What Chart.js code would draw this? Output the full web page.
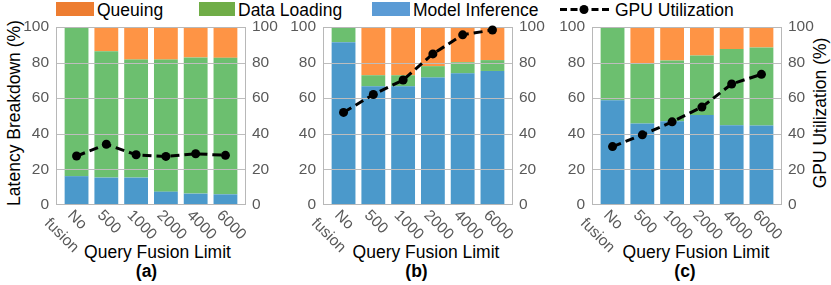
<!DOCTYPE html>
<html>
<head>
<meta charset="utf-8">
<script src="https://cdn.jsdelivr.net/npm/chart.js@4.4.1/dist/chart.umd.min.js"></script>
<style>
  body { margin: 0; background: #fff; }
  #wrap { position: relative; width: 831px; height: 285px; font-family: "Liberation Sans", Arial, sans-serif; }
  canvas { position: absolute; top: 0; }
  .txt { position: absolute; font-size: 17.5px; line-height: 20px; color: #000; white-space: nowrap; }
  .box { position: absolute; top: 2px; height: 14px; }
  .ctr { transform: translateX(-50%); }
  .vt { transform: translate(-50%, -50%) rotate(-90deg); }
</style>
</head>
<body>
<div id="wrap">
  <div class="box" style="left:56px;width:38px;background:#ED7D31"></div>
  <div class="txt" style="left:97px;top:0">Queuing</div>
  <div class="box" style="left:199px;width:36px;background:#70AD47"></div>
  <div class="txt" style="left:238px;top:0">Data Loading</div>
  <div class="box" style="left:372px;width:38px;background:#5B9BD5"></div>
  <div class="txt" style="left:413px;top:0">Model Inference</div>
  <svg style="position:absolute;left:560px;top:0" width="55" height="20">
    <line x1="0" y1="9.5" x2="52" y2="9.5" stroke="#000" stroke-width="3" stroke-dasharray="7 3.5"/>
    <circle cx="24" cy="9.5" r="4.5" fill="#000"/>
  </svg>
  <div class="txt" style="left:615px;top:0">GPU Utilization</div>

  <div class="txt vt" style="left:13.5px;top:113px">Latency Breakdown (%)</div>
  <div class="txt vt" style="left:820px;top:113px">GPU Utilization (%)</div>

  <div class="txt ctr" style="left:157.5px;top:242px">Query Fusion Limit</div>
  <div class="txt ctr" style="left:426px;top:242px">Query Fusion Limit</div>
  <div class="txt ctr" style="left:696px;top:242px">Query Fusion Limit</div>
  <div class="txt ctr" style="left:146.5px;top:261px;font-weight:bold">(a)</div>
  <div class="txt ctr" style="left:416.5px;top:261px;font-weight:bold">(b)</div>
  <div class="txt ctr" style="left:685px;top:261px;font-weight:bold">(c)</div>

  <canvas id="chartA" width="292" height="285" style="left:0px"></canvas>
  <canvas id="chartB" width="292" height="285" style="left:267px"></canvas>
  <canvas id="chartC" width="292" height="285" style="left:536px"></canvas>
</div>
<script>
const categories = [['No', 'fusion'], '500', '1000', '2000', '4000', '6000'];
const yTicks = [0, 20, 40, 60, 80, 100];

// (a)
const inferenceA = [16.2, 15.4, 15.4, 7.5, 6.4, 6.0];
const loadingA   = [83.8, 71.0, 66.3, 74.2, 76.5, 76.7];
const queuingA   = [0, 13.6, 18.3, 18.3, 17.1, 17.3];
const gpuA       = [27.5, 34.1, 28.2, 27.3, 28.8, 27.9];

// (b)
const inferenceB = [91.5, 66.7, 66.7, 71.6, 74.0, 75.3];
const loadingB   = [8.5, 6.2, 6.2, 6.4, 6.2, 6.1];
const queuingB   = [0, 27.1, 27.1, 22.0, 19.8, 18.6];
const gpuB       = [52.0, 62.1, 70.2, 84.9, 95.6, 98.3];

// (c)
const inferenceC = [58.8, 45.8, 47.1, 50.5, 44.8, 44.6];
const loadingC   = [41.2, 33.7, 34.1, 33.5, 42.8, 43.9];
const queuingC   = [0, 20.5, 18.8, 16.0, 12.4, 11.5];
const gpuC       = [32.8, 39.4, 46.7, 55.0, 68.0, 73.4];

const FONT = '"Liberation Sans", Arial, sans-serif';
const TICK_COLOR = '#595959';

const pts = vals => vals.map((v, i) => ({ x: i, y: v }));

// grid + frame go above the bars but under the GPU line
const framePlugin = {
  id: 'frame',
  beforeDatasetDraw(chart, args) {
    if (args.meta.type !== 'line') return;
    const { ctx, chartArea: a } = chart;
    const ys = chart.scales.y;
    ctx.save();
    ctx.setLineDash([]);
    ctx.lineWidth = 1;
    ctx.strokeStyle = '#BDBDBD';
    yTicks.slice(1, -1).forEach(v => {
      const y = Math.round(ys.getPixelForValue(v)) + 0.5;
      ctx.beginPath();
      ctx.moveTo(a.left, y);
      ctx.lineTo(a.right, y);
      ctx.stroke();
    });
    ctx.strokeStyle = '#B8B8B8';
    ctx.strokeRect(a.left + 0.5, a.top + 0.5, a.right - a.left - 1, a.bottom - a.top - 1);
    ctx.restore();
  },
  afterDraw(chart) {
    const { ctx } = chart;
    const xs = chart.scales.x;
    ctx.save();
    ctx.font = '15.5px ' + FONT;
    ctx.fillStyle = TICK_COLOR;
    ctx.textAlign = 'left';
    ctx.textBaseline = 'middle';
    categories.forEach((lab, i) => {
      const lines = Array.isArray(lab) ? lab : [lab];
      const w0 = ctx.measureText(lines[0]).width;
      ctx.save();
      ctx.translate(xs.getPixelForValue(i) - 6.5, 213);
      ctx.rotate(Math.PI / 4);
      lines.forEach((t, j) => {
        ctx.fillText(t, (w0 - ctx.measureText(t).width) / 2, j * 22);
      });
      ctx.restore();
    });
    ctx.restore();
  }
};

function makeChart(id, inference, loading, queuing, gpu) {
  const tickOpts = pad => ({
    stepSize: 20,
    color: TICK_COLOR,
    padding: pad,
    font: { family: FONT, size: 15.5 }
  });
  return new Chart(document.getElementById(id), {
    type: 'bar',
    data: {
      datasets: [
        { label: 'Model Inference', data: pts(inference), backgroundColor: '#4B99CB', order: 1 },
        { label: 'Data Loading', data: pts(loading), backgroundColor: '#6CBF6F', order: 1 },
        { label: 'Queuing', data: pts(queuing), backgroundColor: '#FE9445', order: 1 },
        {
          type: 'line', label: 'GPU Utilization', data: pts(gpu), yAxisID: 'y2', order: 0,
          borderColor: '#000', borderWidth: 3, borderDash: [9, 5],
          pointRadius: 4.5, pointBackgroundColor: '#000', pointBorderWidth: 0,
          clip: false
        }
      ]
    },
    options: {
      responsive: false,
      animation: false,
      devicePixelRatio: 1,
      barPercentage: 0.8,
      categoryPercentage: 1,
      layout: { padding: { top: 27, bottom: 80, left: 0, right: 0 } },
      plugins: { legend: { display: false }, tooltip: { enabled: false } },
      scales: {
        x: { type: 'linear', min: -0.69, max: 5.69, offset: false, display: false, stacked: true },
        y: {
          stacked: true, min: 0, max: 100, position: 'left',
          ticks: tickOpts(7),
          grid: { display: false, drawTicks: false },
          border: { display: false },
          afterFit(s) { s.width = 56; }
        },
        y2: {
          min: 0, max: 100, position: 'right',
          ticks: tickOpts(6),
          grid: { display: false, drawTicks: false },
          border: { display: false },
          afterFit(s) { s.width = 46; }
        }
      }
    },
    plugins: [framePlugin]
  });
}

makeChart('chartA', inferenceA, loadingA, queuingA, gpuA);
makeChart('chartB', inferenceB, loadingB, queuingB, gpuB);
makeChart('chartC', inferenceC, loadingC, queuingC, gpuC);
</script>
</body>
</html>
